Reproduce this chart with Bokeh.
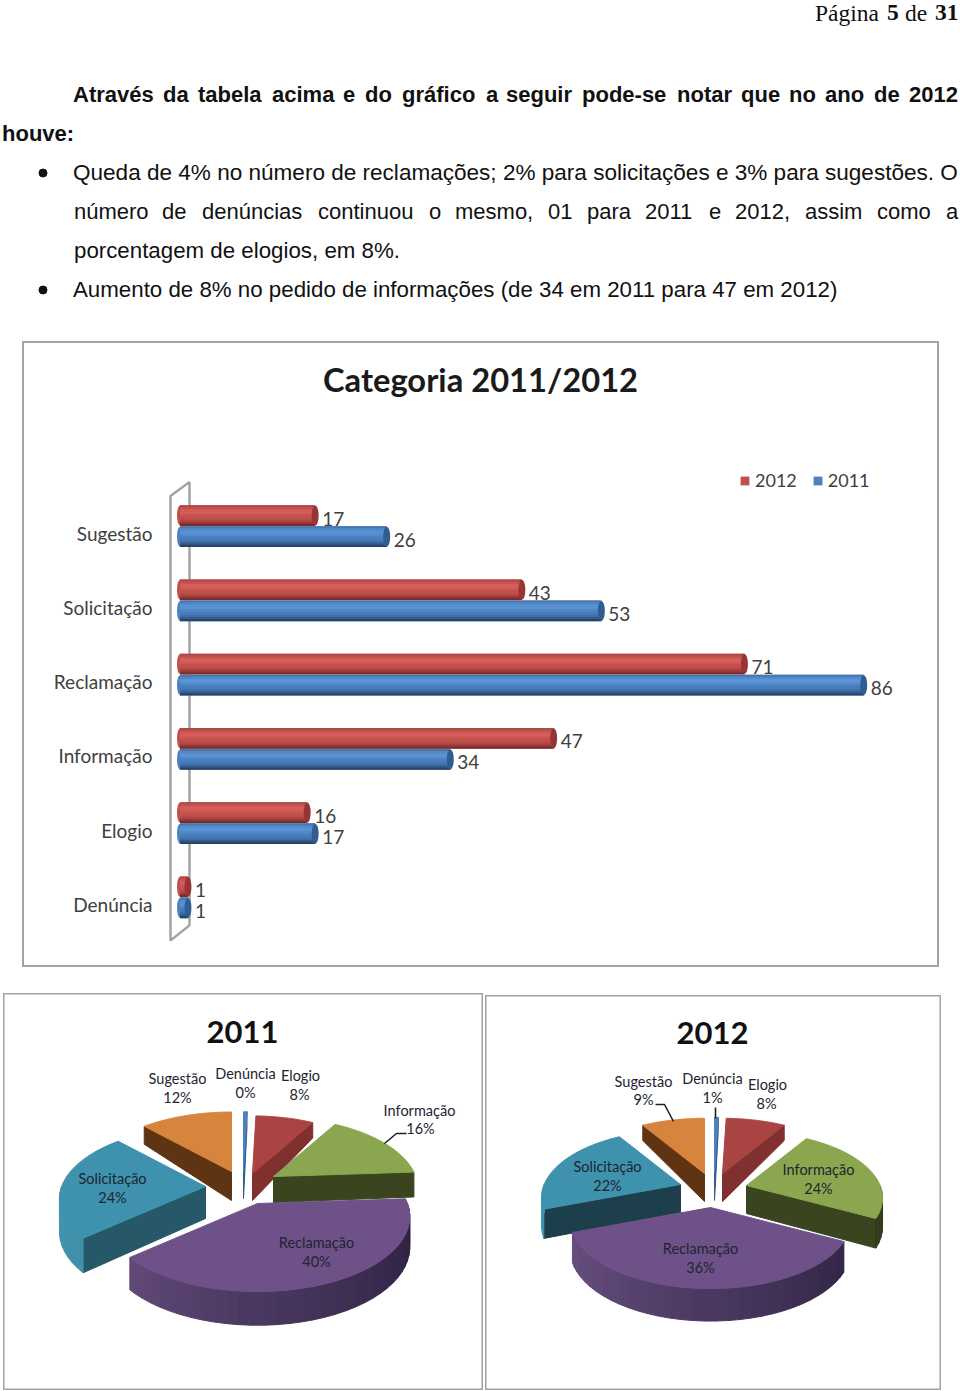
import numpy as np
from bokeh.plotting import figure
from bokeh.layouts import column, row
from bokeh.models import Range1d, FactorRange, Label, Legend, LegendItem, ColumnDataSource
from bokeh.core.properties import value
from bokeh.transform import dodge
from bokeh.embed import file_html
from bokeh.resources import INLINE

# ---------- data ----------
categories = ["Denúncia", "Elogio", "Informação", "Reclamação", "Solicitação", "Sugestão"]
values_2011 = [1, 17, 34, 86, 53, 26]
values_2012 = [1, 16, 47, 71, 43, 17]
pct_2011 = ["0%", "8%", "16%", "40%", "24%", "12%"]
pct_2012 = ["1%", "8%", "24%", "36%", "22%", "9%"]

header_words = [("Página", 815, False), ("5", 887, True), ("de", 905, False), ("31", 935, True)]
justified_1 = "Através da tabela acima e do gráfico a seguir pode-se notar que no ano de 2012".split()
justified_1x = [73, 163, 198, 272, 343, 365, 402, 486, 506, 582, 677, 741, 789, 825, 874, 909]
justified_2 = "número de denúncias continuou o mesmo, 01 para 2011 e 2012, assim como a".split()
justified_2x = [74, 162, 202, 318, 429, 455, 548, 587, 645, 709, 735, 805, 877, 946]
plain_lines = [
    ("houve:", 2, 133, True, "22px"),
    ("Queda de 4% no número de reclamações; 2% para solicitações e 3% para sugestões. O", 73, 172, False, "22.55px"),
    ("porcentagem de elogios, em 8%.", 74, 250, False, "22.3px"),
    ("Aumento de 8% no pedido de informações (de 34 em 2011 para 47 em 2012)", 73, 289, False, "22.3px"),
]

FONT = value("Lato")
SANS = value("Liberation Sans")
SERIF = value("Liberation Serif")
INK = "#111111"
GREY = "#a3a3a3"

# ---------- page text ----------
t = figure(width=960, height=341, x_range=Range1d(0.5, 960.5), y_range=Range1d(341.5, 0.5),
           x_axis_type=None, y_axis_type=None, toolbar_location=None, output_backend="svg",
           min_border=0, outline_line_color=None, frame_align=False)
t.grid.visible = False
for w, x, b_ in header_words:
    t.text([x], [12.5], text=[w], text_font=SERIF, text_font_size="23.5px", text_color=INK,
           text_baseline="middle", text_line_height=1.0, text_font_style="bold" if b_ else "normal")
for words, xs, y, b_ in [(justified_1, justified_1x, 94, True), (justified_2, justified_2x, 211, False)]:
    t.text(xs, [y] * len(xs), text=words, text_font=SANS, text_font_size="22px", text_color=INK,
           text_baseline="middle", text_font_style="bold" if b_ else "normal")
for s, x, y, b_, sz in plain_lines:
    t.text([x], [y], text=[s], text_font=SANS, text_font_size=sz, text_color=INK,
           text_baseline="middle", text_font_style="bold" if b_ else "normal")
t.scatter([43, 43], [173, 290], size=8, color="#111111")

# ---------- bar chart ----------
X0, K = 183.0, 7.95          # page x of value 0, pixels per unit
ROW, FRAME_BOTTOM = 74.2, 941.1
xd = lambda px: (px - X0) / K
yd = lambda py: (FRAME_BOTTOM - py) / ROW

# two empty factors above the data leave room in the frame for the title, legend and wall top
b = figure(width=917, height=626, y_range=FactorRange(factors=categories + [" ", "  "]),
           x_range=Range1d(xd(162), xd(941)), toolbar_location=None, output_backend="svg",
           min_border_left=138, min_border_right=0, min_border_top=4, min_border_bottom=28,
           outline_line_color=None, margin=(0, 0, 0, 22), frame_align=False,
           styles={"border": f"2px solid {GREY}", "box-sizing": "border-box"})
b.xaxis.visible = False
b.grid.visible = False
b.yaxis.axis_line_color = None
b.yaxis.major_tick_line_color = None
b.yaxis.minor_tick_line_color = None
b.yaxis.major_label_standoff = 4
b.yaxis.major_label_text_font = "Lato"
b.yaxis.major_label_text_font_size = "19px"
b.yaxis.major_label_text_color = "#404040"

# 3-D wall
b.line(xd(np.array([189, 170, 170, 189, 189])), yd(np.array([482, 496, 940, 925, 482])),
       line_color=GREY, line_width=2.5)

START = xd(179.5)
CAP = 3.5 / K
H = 20.5 / ROW
src = ColumnDataSource(dict(cat=categories, v11=values_2011, v12=values_2012,
                            r11=np.array(values_2011) - CAP, r12=np.array(values_2012) - CAP,
                            l11=[str(v) for v in values_2011], l12=[str(v) for v in values_2012]))
STRIPS = {
    "11": (["#4877ae", "#5088c8", "#5a93d6", "#5a93d6", "#5089cb", "#4a80c0", "#467ab8", "#3f6ea8", "#335b8d", "#264568"],
           "#4f81bd", "#2f5f90", -3.5 / ROW),
    "12": (["#ad4a47", "#c4524f", "#d65e5b", "#d85f5c", "#cd5955", "#c4514e", "#bf4f4b", "#b04542", "#97393a", "#7b2c2a"],
           "#c0504d", "#963634", 17.5 / ROW),
}
items = {}
for key in ["12", "11"]:
    cols, base, capc, off = STRIPS[key]
    yc = dodge("cat", off, range=b.y_range)
    items[key] = b.hbar(y=yc, left=START, right="r" + key, height=H, source=src, fill_color=base, line_color=None)
    b.ellipse(x=START, y=yc, width=6, height=20, width_units="screen", height_units="screen",
              source=src, fill_color=base, line_color=None)
    n = len(cols)
    for i, c in enumerate(cols):
        o = off + H / 2 - (i + .5) * H / n
        b.hbar(y=dodge("cat", o, range=b.y_range), left=START, right="r" + key, height=H / n + .002,
               source=src, fill_color=c, line_color=None)
    b.ellipse(x="r" + key, y=yc, width=7, height=20, width_units="screen", height_units="screen",
              source=src, fill_color=capc, line_color=None)
    b.text(x="v" + key, y=yc, text="l" + key, source=src, x_offset=3.5, y_offset=3,
           text_font=FONT, text_font_size="19px", text_color="#404040", text_baseline="middle")

b.add_layout(Label(x=xd(480), y=yd(379), text="Categoria 2011/2012", text_font="Lato", text_font_style="bold",
                   text_font_size="32.7px", text_color="#1a1a1a", text_align="center", text_baseline="middle"))
leg = Legend(items=[LegendItem(label="2012", renderers=[items["12"]]),
                    LegendItem(label="2011", renderers=[items["11"]])],
             orientation="horizontal", location=(577, 450), border_line_color=None, background_fill_alpha=0,
             glyph_width=11, glyph_height=11, label_text_font="Lato", label_text_font_size="18px",
             label_text_color="#404040", spacing=15, label_standoff=5, padding=0, margin=0)
b.add_layout(leg)

# ---------- pies ----------
SLICE_COL = {
    "Denúncia": ("#4f81bd", "#2c5a8a"), "Elogio": ("#a94442", "#7f302f"),
    "Informação": ("#8aa64f", "#3a4520"), "Reclamação": ("#6f5189", "#3f3052"),
    "Solicitação": ("#3f92ad", "#265868"), "Sugestão": ("#d6843e", "#5f3413"),
}
OUTER = {
    "Reclamação": ["#6c5283", "#5f4876", "#4a3860", "#382a4c", "#2a1f3c"],
    "Solicitação": ["#4296ad", "#3a8aa3", "#327d94"],
    "Informação": ["#3a4520", "#323c1c"], "Sugestão": ["#5f3413"], "Elogio": ["#7f302f"], "Denúncia": ["#2c5a8a"],
}
DRAW_ORDER = ["Denúncia", "Sugestão", "Elogio", "Informação", "Solicitação", "Reclamação"]


def mix(cols, f):
    if len(cols) == 1:
        return cols[0]
    f = min(max(f, 0), 1) * (len(cols) - 1)
    i = min(int(f), len(cols) - 2)
    a = [int(cols[i][j:j + 2], 16) for j in (1, 3, 5)]
    c = [int(cols[i + 1][j:j + 2], 16) for j in (1, 3, 5)]
    m = [round(p + (q - p) * (f - i)) for p, q in zip(a, c)]
    return "#%02x%02x%02x" % tuple(m)


def pie(vals, pcts, box, rx, ry, p_, apex, scale, depth, side, title, title_xy, name_xy, pct_xy, leaders):
    x0, y0, w, h = box
    f = figure(width=w, height=h, x_range=Range1d(x0, x0 + w), y_range=Range1d(y0 + h, y0),
               x_axis_type=None, y_axis_type=None, toolbar_location=None, output_backend="svg",
               min_border=0, outline_line_color=GREY, outline_line_width=2, frame_align=False,
               margin=(y0 - 967, 0, 0, 3 if x0 < 100 else 2))
    f.grid.visible = False
    total = sum(vals)
    cum = np.cumsum([0] + vals) / total * 360.0
    spans = {c: (cum[i], cum[i + 1]) for i, c in enumerate(categories)}

    def pt(c, tdeg):
        a = np.radians(tdeg)
        u, v = np.sin(a), np.cos(a)
        s = 1 / (1 + p_ * v)
        ax, ay = apex[c]
        return ax + scale[c] * rx * u * s, ay - scale[c] * ry * v * s, v, s

    def dep(c, v, s):
        return depth[c] * (s ** 4 if v > 0 else 1 + .12 * abs(v))

    xs, ys, cs = [], [], []
    for c in DRAW_ORDER:
        ts, te = spans[c]
        ax, ay = apex[c]
        D = depth[c]
        faces = []
        if np.sin(np.radians(te)) > 0:
            faces.append(te)
        if np.sin(np.radians(ts)) < 0:
            faces.append(ts)
        for tf in faces:
            px, py, v, s = pt(c, tf)
            xs.append([ax, px, px, ax]); ys.append([ay, py, py + dep(c, v, s), ay + D])
            cs.append(side.get(c, SLICE_COL[c][1]))
        lo, hi = max(ts, 90), min(te, 270)
        if hi > lo:
            grid = np.arange(lo, hi + 4, 4.0)
            grid[-1] = hi
            for a0, a1 in zip(grid[:-1], grid[1:]):
                if a1 <= a0:
                    continue
                p0x, p0y, v0, s0 = pt(c, a0)
                p1x, p1y, v1, s1 = pt(c, a1)
                xs.append([p0x, p1x, p1x, p0x])
                ys.append([p0y, p1y, p1y + dep(c, v1, s1), p0y + dep(c, v0, s0)])
                cs.append(mix(OUTER[c], (270 - (a0 + a1) / 2) / 180))
        arc = np.linspace(ts, te, 60)
        P = [pt(c, a) for a in arc]
        xs.append([ax] + [q[0] for q in P]); ys.append([ay] + [q[1] for q in P])
        cs.append(SLICE_COL[c][0])
    f.patches(xs, ys, fill_color=cs, line_color=cs, line_width=1)
    for lx, ly in leaders:
        f.line(lx, ly, line_color="#222222", line_width=1.6)
    f.text([title_xy[0]], [title_xy[1]], text=[title], text_font=FONT, text_font_style="bold",
           text_font_size="31px", text_color="#111111", text_align="center", text_baseline="middle")
    f.text([q[0] for q in name_xy], [q[1] for q in name_xy], text=categories, text_font=FONT,
           text_font_size="14.5px", text_color="#1d2530", text_align="center", text_baseline="middle")
    f.text([q[0] for q in pct_xy], [q[1] for q in pct_xy], text=pcts, text_font=FONT,
           text_font_size="14.5px", text_color="#1d2530", text_align="center", text_baseline="middle")
    return f


p1 = pie(values_2011, pct_2011, (3, 993, 480, 397), 153, 74.3, .174,
         {"Denúncia": (243, 1170), "Elogio": (252, 1173), "Informação": (273, 1176),
          "Reclamação": (257, 1203), "Solicitação": (205, 1186), "Sugestão": (231, 1171)},
         {"Denúncia": .93, "Elogio": .91, "Informação": .93, "Reclamação": .98, "Solicitação": .94, "Sugestão": .94},
         {"Denúncia": 28, "Elogio": 27, "Informação": 26, "Reclamação": 30, "Solicitação": 32, "Sugestão": 29},
         {"Solicitação": "#265868"}, "2011", (242, 1031),
         [(245, 1073), (300, 1075), (419, 1110), (316, 1242), (112, 1178), (177, 1078)],
         [(245, 1092), (299, 1094), (420, 1128), (316, 1261), (112, 1197), (177, 1097)],
         [([406, 396, 384], [1133, 1133, 1143])])
p2 = pie(values_2012, pct_2012, (485, 995, 456, 395), 137.7, 65.7, .19,
         {"Denúncia": (714, 1172), "Elogio": (722, 1173), "Informação": (746, 1185),
          "Reclamação": (710, 1207), "Solicitação": (680, 1184), "Sugestão": (704, 1173)},
         {"Denúncia": 1.0, "Elogio": 1.0, "Informação": .97, "Reclamação": 1.0, "Solicitação": .99, "Sugestão": 1.0},
         {"Denúncia": 28, "Elogio": 28, "Informação": 28, "Reclamação": 29, "Solicitação": 28, "Sugestão": 28},
         {"Solicitação": "#1d3f4b"}, "2012", (712, 1032),
         [(712, 1078), (767, 1084), (818, 1169), (700, 1248), (607, 1166), (643, 1081)],
         [(712, 1097), (766, 1103), (818, 1188), (700, 1267), (607, 1185), (643, 1099)],
         [([655, 664, 673], [1104, 1104, 1121]), ([715, 715], [1107, 1118])])

page = column(t, b, row(p1, p2))
open("out.html", "w").write(file_html(page, INLINE))
